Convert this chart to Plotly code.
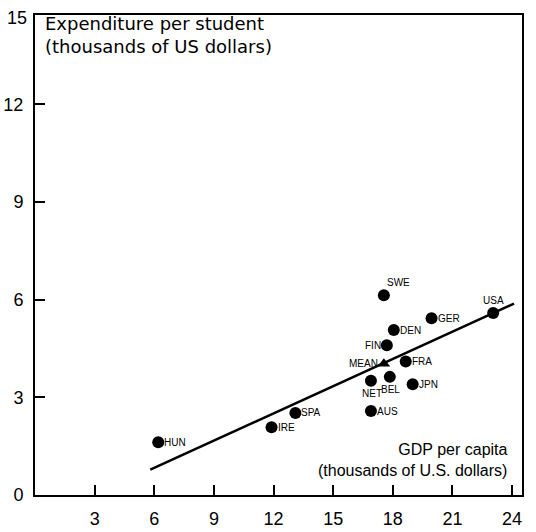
import plotly.graph_objects as go

countries = ["HUN", "IRE", "SPA", "AUS", "NET", "BEL", "JPN", "FRA", "FIN", "DEN", "SWE", "GER", "USA"]
gdp = [6.2, 11.9, 13.1, 16.9, 16.9, 17.85, 19.0, 18.65, 17.7, 18.05, 17.55, 19.95, 23.05]
spend = [1.62, 2.08, 2.52, 2.58, 3.51, 3.63, 3.4, 4.1, 4.6, 5.07, 6.14, 5.43, 5.59]
label_side = ["r", "r", "r", "r", "b", "b", "r", "r", "l", "r", "tr", "r", "t"]

mean_label = ["MEAN"]
mean_gdp = [17.55]
mean_spend = [4.03]

fit_x = [5.8, 24.1]
fit_y = [0.78, 5.88]

x_ticks = [3, 6, 9, 12, 15, 18, 21, 24]
y_ticks = [0, 3, 6, 9, 12]

FONT = "Liberation Sans"
LBL = dict(family="Liberation Sans", size=10, color="black")

fig = go.Figure()
fig.add_trace(go.Scatter(x=fit_x, y=fit_y, mode="lines",
                         line=dict(color="black", width=2.5), showlegend=False, hoverinfo="skip"))
fig.add_trace(go.Scatter(x=gdp, y=spend, mode="markers", text=countries,
                         marker=dict(color="black", size=12), showlegend=False))
fig.add_trace(go.Scatter(x=mean_gdp, y=mean_spend, mode="markers", text=mean_label,
                         marker=dict(color="black", size=11, symbol="triangle-up"), showlegend=False))


def place(name, x, y, side):
    kw = dict(x=x, y=y, text=name, showarrow=False, font=LBL)
    if side == "r":
        kw.update(xanchor="left", yanchor="middle", xshift=4)
    elif side == "l":
        kw.update(xanchor="right", yanchor="middle", xshift=-4)
    elif side == "t":
        kw.update(xanchor="center", yanchor="bottom", yshift=5)
    elif side == "tr":
        kw.update(xanchor="left", yanchor="bottom", xshift=1, yshift=5)
    elif side == "b":
        kw.update(xanchor="center", yanchor="top", yshift=-5, xshift=1)
    fig.add_annotation(**kw)


for n, x, y, s in zip(countries, gdp, spend, label_side):
    place(n, x, y, s)
place(mean_label[0], mean_gdp[0], mean_spend[0], "l")

fig.update_layout(
    width=536, height=532,
    margin=dict(l=35, r=14, t=15, b=37),
    plot_bgcolor="white", paper_bgcolor="white",
    font=dict(family=FONT, color="black"),
    xaxis=dict(range=[0, 24.5], tickvals=x_ticks, ticktext=[str(v) for v in x_ticks],
               ticks="inside", ticklen=10, tickwidth=1.5, tickcolor="black",
               showline=True, linecolor="black", linewidth=2, mirror=True,
               showgrid=False, zeroline=False, tickfont=dict(size=18),
               ticklabelstandoff=6, automargin=False),
    yaxis=dict(range=[0, 14.75], tickvals=y_ticks, ticktext=[str(v) for v in y_ticks],
               ticks="inside", ticklen=10, tickwidth=1.5, tickcolor="black",
               showline=True, linecolor="black", linewidth=2, mirror=True,
               showgrid=False, zeroline=False, tickfont=dict(size=18),
               ticklabelstandoff=6, automargin=False),
)

fig.add_annotation(xref="paper", yref="paper", x=0, y=1, xanchor="right", yanchor="middle",
                   xshift=-6, yshift=-3, text="15", showarrow=False, font=dict(size=18))
fig.add_annotation(xref="paper", yref="paper", x=0, y=1, xanchor="left", yanchor="top",
                   xshift=8, yshift=4, align="left",
                   text="Expenditure per student<br>(thousands of US dollars)",
                   showarrow=False, font=dict(family="DejaVu Sans", size=18))
fig.add_annotation(xref="paper", yref="paper", x=1, y=0, xanchor="right", yanchor="bottom",
                   xshift=-12, yshift=14, align="right",
                   text="GDP per capita<br>(thousands of U.S. dollars)",
                   showarrow=False, font=dict(family=FONT, size=16))

fig.write_html("out.html", config={"displayModeBar": False},
               post_script="document.body.style.margin='0';document.body.style.overflow='hidden';")
